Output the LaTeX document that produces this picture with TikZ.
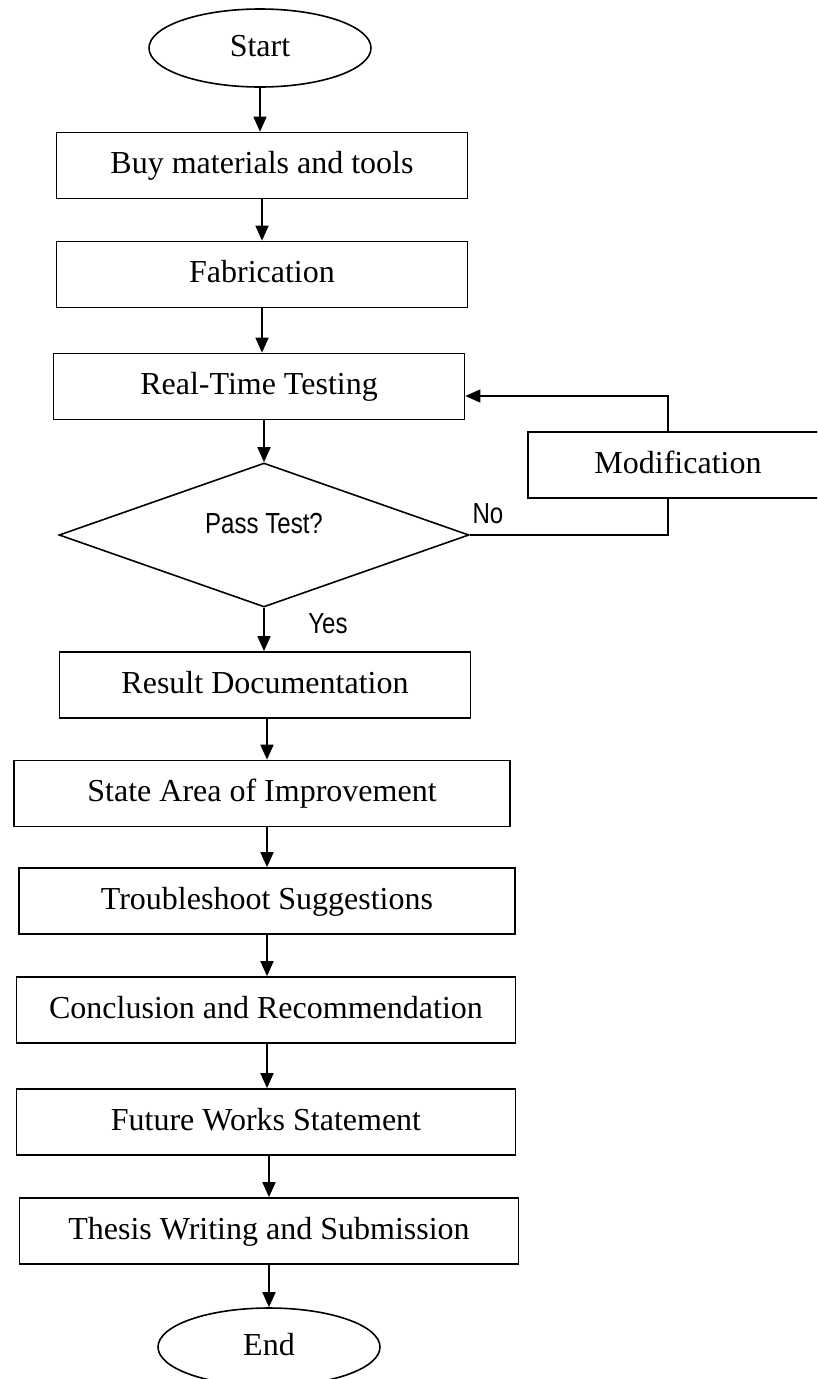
\documentclass[tikz,border=0pt]{standalone}
\usepackage{fontspec}
\setmainfont{Liberation Serif}
\newfontfamily\narrowsans[FakeStretch=0.83]{Liberation Sans}
\usetikzlibrary{shapes.geometric,arrows.meta}
\begin{document}
\begin{tikzpicture}[x=1pt,y=-1pt,
  box/.style={draw, line width=1.7pt, rectangle, inner sep=0pt, minimum height=66pt,
    font=\fontsize{32}{38}\selectfont, text height=22pt, text depth=6pt},
  term/.style={draw, line width=1.6pt, ellipse, inner sep=0pt, minimum width=222pt, minimum height=78pt,
    font=\fontsize{32}{38}\selectfont, text height=22pt, text depth=6pt},
  decision/.style={draw, line width=1.6pt, diamond, inner sep=0pt, minimum width=410pt, minimum height=144pt},
  lbl/.style={font=\narrowsans\fontsize{29}{34}\selectfont, inner sep=0pt, anchor=base},
  flow/.style={line width=1.7pt, -{Triangle[length=15pt,width=13pt]}},
  link/.style={line width=1.7pt}
]
\useasboundingbox (0,0) rectangle (817,1379);
\clip (0,0) rectangle (817,1379);
\fill[white] (0,0) rectangle (817,1379);

\node[term] (start) at (260,48) {Start};
\node[box, minimum width=411pt] (buy) at (262,165.5) {Buy materials and tools};
\node[box, minimum width=411pt] (fab) at (262,274.5) {Fabrication};
\node[box, minimum width=411pt] (rt) at (259,386.5) {Real-Time Testing};
\node[decision] (dia) at (264,535) {};
\node[lbl] (pass) at (264,533) {Pass Test?};
\node[box, minimum width=300pt] (mod) at (678,465) {Modification};
\node[box, minimum width=411pt] (res) at (265,685) {Result Documentation};
\node[box, minimum width=496pt] (state) at (262,793.5) {State Area of Improvement};
\node[box, minimum width=496pt] (trouble) at (267,901) {Troubleshoot Suggestions};
\node[box, minimum width=499pt] (concl) at (266,1010) {Conclusion and Recommendation};
\node[box, minimum width=499pt] (future) at (266,1122) {Future Works Statement};
\node[box, minimum width=499pt] (thesis) at (269,1231) {Thesis Writing and Submission};
\node[term] (end) at (269,1347) {End};
\node[lbl] (no) at (488,523) {No};
\node[lbl] (yes) at (328,633) {Yes};
\coordinate (mx) at (668,0);

\draw[flow] (start.south) -- (start.south |- buy.north);
\draw[flow] (buy.south) -- (buy.south |- fab.north);
\draw[flow] (fab.south) -- (fab.south |- rt.north);
\draw[flow] (rt.south -| dia.north) -- (dia.north);
\draw[flow] (dia.south) -- (dia.south |- res.north);
\draw[flow] (res.south -| trouble.north) -- (trouble.north |- state.north);
\draw[flow] (state.south -| trouble.north) -- (trouble.north);
\draw[flow] (trouble.south) -- (trouble.south |- concl.north);
\draw[flow] (concl.south -| trouble.south) -- (trouble.south |- future.north);
\draw[flow] (future.south -| thesis.north) -- (thesis.north);
\draw[flow] (thesis.south -| end.north) -- (end.north);

\draw[link] (dia.east) -- (dia.east -| mx) -- (mod.south -| mx);
\draw[flow] (mod.north -| mx) |- ([yshift=-9.5pt]rt.east);
\end{tikzpicture}
\end{document}
